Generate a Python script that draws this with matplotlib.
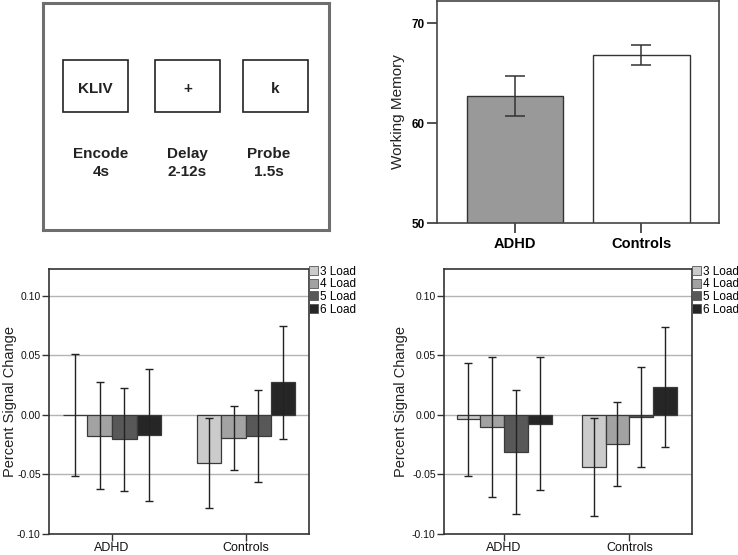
import matplotlib
matplotlib.use("Agg")
import matplotlib.pyplot as plt
from matplotlib.patches import Rectangle
import numpy as np

plt.rcParams['font.family'] = ['Liberation Sans', 'DejaVu Sans']

# task diagram
task_words = ["KLIV", "+", "k"]
task_phases = ["Encode\n4s", "Delay\n2-12s", "Probe\n1.5s"]

# working memory bars
wm_groups = ["ADHD", "Controls"]
wm_means = [62.75, 66.85]
wm_err = [2.0, 1.0]
wm_colors = ["#999999", "#ffffff"]

# percent signal change
groups = ["ADHD", "Controls"]
loads = ["3 Load", "4 Load", "5 Load", "6 Load"]
load_colors = ["#cbcbcb", "#a2a2a2", "#585858", "#262626"]

left_means = {"ADHD": [0.000, -0.0175, -0.0205, -0.0168],
              "Controls": [-0.0402, -0.0192, -0.0175, 0.0275]}
left_err = {"ADHD": [0.0513, 0.0448, 0.0430, 0.0553],
            "Controls": [0.0380, 0.0270, 0.0385, 0.0475]}

right_means = {"ADHD": [-0.0036, -0.0103, -0.0315, -0.0074],
               "Controls": [-0.0438, -0.0246, -0.0018, 0.0233]}
right_err = {"ADHD": [0.0475, 0.0586, 0.0521, 0.0557],
             "Controls": [0.0410, 0.0354, 0.0421, 0.0503]}

psc_ticks = [-0.10, -0.05, 0.00, 0.05, 0.10]
grid_lines = [-0.05, 0.00, 0.05, 0.10]

W, H = 738, 555
fig = plt.figure(figsize=(W / 100, H / 100), dpi=100)


def px_axes(x0, y0, x1, y1):
    return fig.add_axes([x0 / W, 1 - y1 / H, (x1 - x0) / W, (y1 - y0) / H])


# ---- top left: task diagram
ax = px_axes(43, 3, 329, 230)
ax.set_xlim(43, 329)
ax.set_ylim(230, 3)
ax.set_xticks([])
ax.set_yticks([])
for s in ax.spines.values():
    s.set_color("#6e6e6e")
    s.set_linewidth(2.2)
box_x = [63, 155, 243]
for i, word in enumerate(task_words):
    ax.add_patch(Rectangle((box_x[i], 60), 65, 52, fill=False, ec="#222222", lw=1.2))
    ax.text(box_x[i] + 32.5, 89, word, ha="center", va="center", fontsize=11,
            fontweight="bold", color="#222222")
    ax.text(box_x[i] + 38 - i * 6, 163, task_phases[i], ha="center", va="center",
            fontsize=11, fontweight="bold", color="#222222", linespacing=1.3)

# ---- top right: working memory
ax = px_axes(437, 1, 719, 223)
x = np.arange(len(wm_groups))
ax.bar(x, wm_means, width=0.76, color=wm_colors, edgecolor="#333333", lw=1.0, zorder=2)
ax.errorbar(x, wm_means, yerr=wm_err, fmt="none", ecolor="#333333", elinewidth=1.1,
            capsize=7, capthick=1.1, zorder=3)
ax.set_ylim(50, 72.2)
ax.set_xlim(-0.617, 1.613)
ax.set_yticks([50, 60, 70])
ax.set_xticks(x)
ax.set_xticklabels(wm_groups, fontsize=10.5, fontweight="bold")
for lab in ax.get_yticklabels():
    lab.set_fontweight("bold")
    lab.set_fontsize(8.5)
ax.tick_params(length=7, width=1.2, color="#333333", pad=2)
ax.tick_params(axis="x", pad=3)
ax.set_ylabel("Working Memory", fontsize=11, color="#222222")
ax.yaxis.set_label_coords(-0.113, 0.5)
for s in ax.spines.values():
    s.set_color("#444444")
    s.set_linewidth(1.2)


# ---- bottom: percent signal change
def psc_panel(box, xlim, width, means, errs, label_x):
    ax = px_axes(*box)
    gx = np.arange(len(groups))
    for j, load in enumerate(loads):
        off = (j - 1.5) * width
        m = [means[g][j] for g in groups]
        e = [errs[g][j] for g in groups]
        ax.bar(gx + off, m, width=width, color=load_colors[j], edgecolor="#3a3a3a",
               lw=0.9, label=load, zorder=2)
        ax.errorbar(gx + off, m, yerr=e, fmt="none", ecolor="#222222", elinewidth=1.0,
                    capsize=3, capthick=1.0, zorder=3)
    for g in grid_lines:
        ax.axhline(g, color="#b4b4b4", lw=1.0, zorder=1)
    ax.set_ylim(-0.10, 0.1225)
    ax.set_xlim(*xlim)
    ax.set_yticks(psc_ticks)
    ax.set_yticklabels(["%.2f" % t for t in psc_ticks], fontsize=7.5, color="#111111")
    ax.set_xticks(gx)
    ax.set_xticklabels(groups, fontsize=9, color="#111111")
    ax.tick_params(length=5, width=1.0, color="#333333", pad=1)
    ax.tick_params(axis="x", pad=1)
    ax.set_ylabel("Percent Signal Change", fontsize=10.5, color="#222222")
    ax.yaxis.set_label_coords(label_x, 0.5)
    for s in ax.spines.values():
        s.set_color("#333333")
        s.set_linewidth(1.2)
    leg = ax.legend(loc="upper left", bbox_to_anchor=(1.0, 1.012), frameon=False,
                    fontsize=8.5, borderaxespad=0.0, borderpad=0.0,
                    handlelength=0.8, handleheight=0.8, handletextpad=0.1,
                    labelspacing=0.05)
    for h in leg.legend_handles:
        h.set_edgecolor("#555555")
        h.set_linewidth(0.6)
    return ax


psc_panel((49, 269, 309, 534), (-0.470, 1.470), 0.184, left_means, left_err, -0.123)
psc_panel((444, 269, 692, 534), (-0.48, 1.50), 0.19, right_means, right_err, -0.145)

fig.savefig("out.png", dpi=100)
